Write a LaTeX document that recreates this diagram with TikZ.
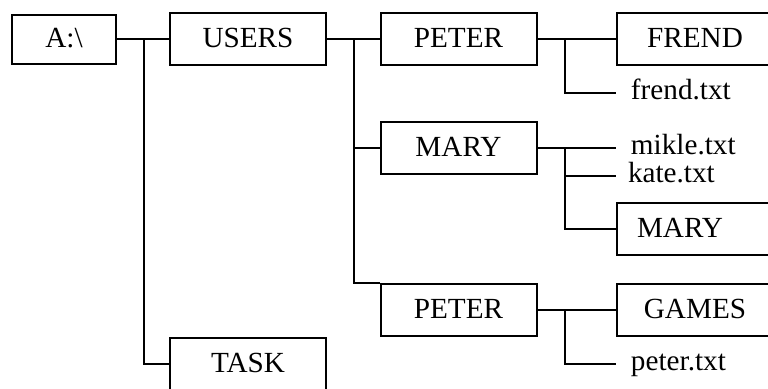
\documentclass[tikz,border=0pt]{standalone}
\usepackage{fontspec}
\setmainfont{Liberation Serif}
\usetikzlibrary{positioning, calc}

\begin{document}
\begin{tikzpicture}[
    x=0.5pt, y=-0.5pt, % one unit is one pixel of the sketch
    line width=1pt,
    font=\fontsize{14.6}{16}\selectfont,
    dirbox/.style={draw, minimum width=78pt, minimum height=26pt,
        inner sep=0pt, text height=0.8em, text depth=0pt}, % folder boxes
    file/.style={anchor=west, inner xsep=7pt, inner ysep=0pt,
        text height=0.64em, text depth=0pt} % plain file names
]

    % Fix the page to the sketch size
    \useasboundingbox (0,0) rectangle (768,388);

    % Folder boxes, column by column
    \node[dirbox, minimum width=52pt, minimum height=24.5pt] (root) at (64,39) {A:\textbackslash};
    \node[dirbox] (users) at (248,39) {USERS};
    \node[dirbox] (task) at (248,364) {TASK};
    \node[dirbox] (peter) at (458.5,39) {PETER};
    \node[dirbox] (mary) at (458.5,148) {MARY};
    \node[dirbox] (peterb) at (458.5,310) {PETER};
    \node[dirbox] (frend) at (695,39) {FREND};
    % Text sits a little left in this box
    \node[dirbox, text width=58pt, inner xsep=10pt, align=left] (maryb) at (695,229) {MARY};
    \node[dirbox] (games) at (695,310) {GAMES};

    % File names
    \node[file] (frendtxt) at (616,93) {frend.txt};
    \node[file] (mikletxt) at (616,148) {mikle.txt};
    \node[file, inner xsep=5.5pt] (katetxt) at (616,176) {kate.txt};
    \node[file] (petertxt) at (616,364) {peter.txt};

    % Branch points of the tree lines
    \coordinate (ja) at (144,39);
    \coordinate (jb) at (354,39);
    \coordinate (jc) at (565,39);
    \coordinate (jd) at (565,148);
    \coordinate (je) at (565,310);

    % Root level
    \draw (root) -- (users);
    \draw (ja) |- (task);

    % USERS level
    \draw (users) -- (peter);
    \draw (jb) |- (mary);
    \draw (jb) |- (peterb.north west);

    % Inside PETER
    \draw (peter) -- (frend);
    \draw (jc) |- (frendtxt);

    % Inside MARY
    \draw (mary) -- (mikletxt);
    \draw (jd) |- (katetxt);
    \draw (jd) |- (maryb);

    % Inside the second PETER
    \draw (peterb) -- (games);
    \draw (je) |- (petertxt);

\end{tikzpicture}
\end{document}
